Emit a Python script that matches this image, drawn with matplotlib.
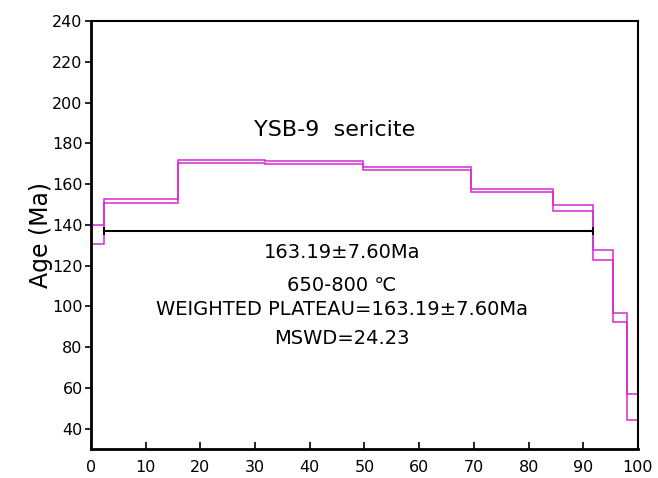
import numpy as np
import matplotlib
matplotlib.use('Agg')
import matplotlib.pyplot as plt

plt.rcParams['font.family'] = ['DejaVu Sans']

# cumulative 39Ar released (%) - step edges
edges = [0, 2.4, 15.9, 31.8, 49.7, 69.4, 84.5, 91.8, 95.5, 98.0, 100]
# apparent age upper / lower bounds (Ma)
age_upper = [139.8, 152.6, 171.9, 171.3, 168.5, 157.6, 149.5, 127.8, 96.8, 56.8]
age_lower = [130.4, 150.9, 170.2, 169.6, 166.9, 156.0, 147.0, 122.6, 92.4, 44.0]

plateau_start, plateau_end = 2.4, 91.8
plateau_age = 137.0

yticks = [40, 60, 80, 100, 120, 140, 160, 180, 200, 220, 240]
xticks = [0, 10, 20, 30, 40, 50, 60, 70, 80, 90, 100]

fig = plt.figure(figsize=(6.58, 4.78), dpi=100)
ax = fig.add_axes([0.1383, 0.0607, 0.8313, 0.8953])

mag = '#d42ad4'
ax.stairs(age_upper, edges, baseline=None, color=mag, linewidth=1.1)
ax.stairs(age_lower, edges, baseline=None, color=mag, linewidth=1.1)

# plateau line with end caps
ax.plot([plateau_start, plateau_end], [plateau_age, plateau_age], color='black', linewidth=1.5)
ax.plot([plateau_start, plateau_end], [plateau_age, plateau_age], linestyle='none',
        marker='|', markersize=6, color='black', markeredgewidth=1.5)

ax.set_xlim(0, 100)
ax.set_ylim(30, 240)
ax.set_xticks(xticks)
ax.set_yticks(yticks)
ax.tick_params(axis='x', direction='in', length=5, width=1.2, labelsize=11.5, pad=8)
ax.tick_params(axis='y', direction='out', length=4, width=1.2, labelsize=11.5, pad=2)
for s in ax.spines.values():
    s.set_linewidth(1.5)
ax.spines['left'].set_linewidth(2)
ax.spines['bottom'].set_linewidth(2)

ax.set_ylabel('Age (Ma)', fontsize=17, labelpad=-1)

ax.text(0.446, 0.745, 'YSB-9  sericite', transform=ax.transAxes, ha='center', va='center', fontsize=16)
ax.text(0.459, 0.460, '163.19\u00b17.60Ma', transform=ax.transAxes, ha='center', va='center', fontsize=14)
ax.text(0.459, 0.383, '650-800 \u2103', transform=ax.transAxes, ha='center', va='center', fontsize=14)
ax.text(0.458, 0.325, 'WEIGHTED PLATEAU=163.19\u00b17.60Ma', transform=ax.transAxes, ha='center', va='center', fontsize=14)
ax.text(0.459, 0.259, 'MSWD=24.23', transform=ax.transAxes, ha='center', va='center', fontsize=14)

fig.savefig('out.png', dpi=100)
